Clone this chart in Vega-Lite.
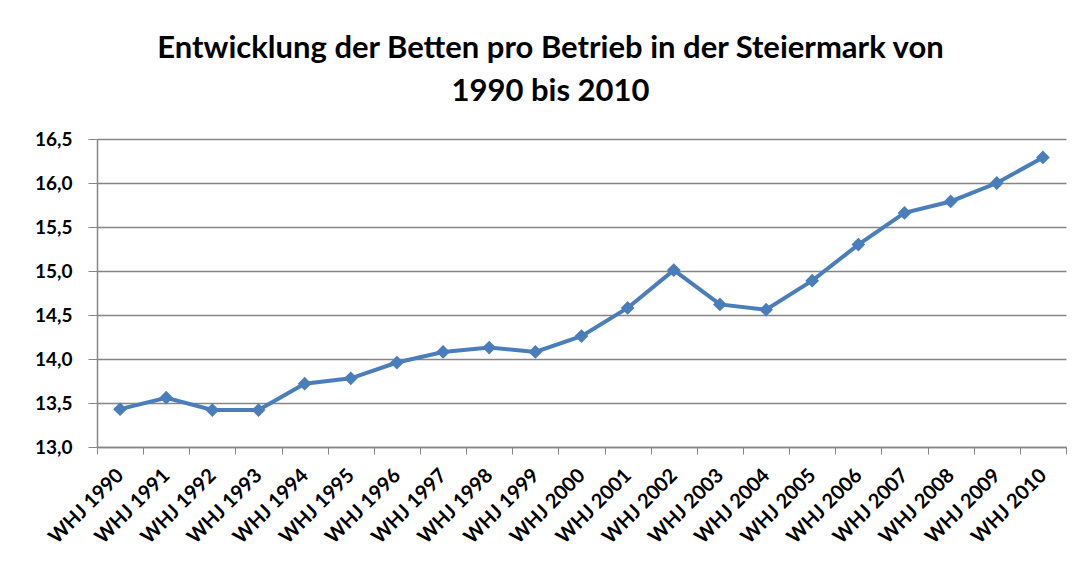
{
  "$schema": "https://vega.github.io/schema/vega-lite/v6.json",
  "width": 969,
  "height": 308,
  "autosize": {"type": "none"},
  "padding": {"left": 97, "top": 139, "right": 9, "bottom": 128},
  "background": "white",
  "title": {
    "text": ["Entwicklung der Betten pro Betrieb in der Steiermark von", "1990 bis 2010"],
    "font": "Lato",
    "fontSize": 31,
    "fontWeight": "bold",
    "color": "#000000",
    "anchor": "middle",
    "dx": -31,
    "lineHeight": 43,
    "offset": 22
  },
  "data": {
    "values": [
      {"jahr": "WHJ 1990", "betten": 13.43},
      {"jahr": "WHJ 1991", "betten": 13.56},
      {"jahr": "WHJ 1992", "betten": 13.42},
      {"jahr": "WHJ 1993", "betten": 13.42},
      {"jahr": "WHJ 1994", "betten": 13.72},
      {"jahr": "WHJ 1995", "betten": 13.78},
      {"jahr": "WHJ 1996", "betten": 13.96},
      {"jahr": "WHJ 1997", "betten": 14.08},
      {"jahr": "WHJ 1998", "betten": 14.13},
      {"jahr": "WHJ 1999", "betten": 14.08},
      {"jahr": "WHJ 2000", "betten": 14.26},
      {"jahr": "WHJ 2001", "betten": 14.58},
      {"jahr": "WHJ 2002", "betten": 15.01},
      {"jahr": "WHJ 2003", "betten": 14.62},
      {"jahr": "WHJ 2004", "betten": 14.56},
      {"jahr": "WHJ 2005", "betten": 14.89},
      {"jahr": "WHJ 2006", "betten": 15.30},
      {"jahr": "WHJ 2007", "betten": 15.66},
      {"jahr": "WHJ 2008", "betten": 15.79},
      {"jahr": "WHJ 2009", "betten": 16.00},
      {"jahr": "WHJ 2010", "betten": 16.29}
    ]
  },
  "encoding": {
    "x": {
      "field": "jahr",
      "type": "nominal",
      "sort": null,
      "scale": {"type": "band", "paddingInner": 0, "paddingOuter": 0},
      "axis": {
        "title": null,
        "labelAngle": -45,
        "labelAlign": "right",
        "labelBaseline": "middle",
        "labelFont": "Lato",
        "labelFontSize": 20,
        "labelFontWeight": "bold",
        "labelColor": "#000000",
        "labelPadding": 18,
        "tickBand": "extent",
        "tickSize": 7,
        "tickColor": "#868686",
        "domainColor": "#868686",
        "domainWidth": 1.5,
        "grid": false
      }
    },
    "y": {
      "field": "betten",
      "type": "quantitative",
      "scale": {"domain": [13, 16.5], "nice": false, "zero": false},
      "axis": {
        "title": null,
        "values": [13, 13.5, 14, 14.5, 15, 15.5, 16, 16.5],
        "labelExpr": "replace(format(datum.value, '.1f'), '.', ',')",
        "labelFont": "Lato",
        "labelFontSize": 19,
        "labelFontWeight": "bold",
        "labelColor": "#000000",
        "labelPadding": 16,
        "tickSize": 9,
        "tickColor": "#868686",
        "domainColor": "#868686",
        "domainWidth": 1.5,
        "grid": true,
        "gridColor": "#868686",
        "gridWidth": 1.3
      }
    }
  },
  "layer": [
    {
      "mark": {"type": "line", "color": "#4A7EBB", "strokeWidth": 4}
    },
    {
      "mark": {"type": "point", "shape": "diamond", "filled": true, "color": "#4A7EBB", "size": 190, "opacity": 1}
    }
  ],
  "config": {
    "view": {"stroke": null}
  }
}
